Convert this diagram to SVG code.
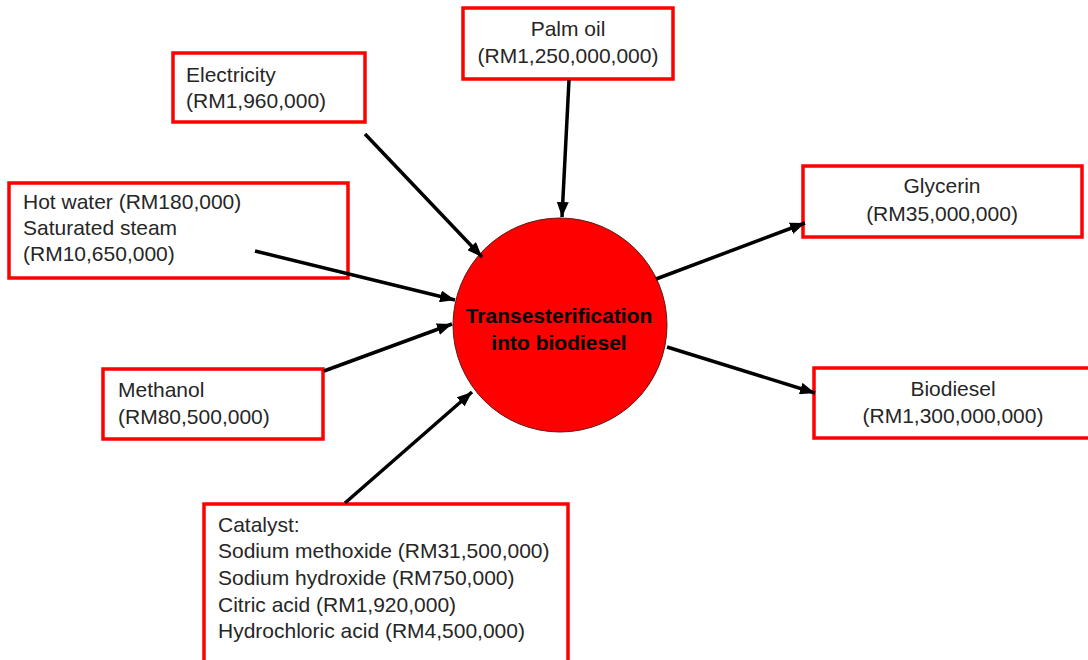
<svg xmlns="http://www.w3.org/2000/svg" width="1088" height="660" viewBox="0 0 1088 660">
<style>
.box{fill:#fff;stroke:#ff0000;stroke-width:3.5}
.t{font-family:"Liberation Sans",Arial,sans-serif;font-size:21px;fill:#262626}
.c{text-anchor:middle}
.b{font-family:"Liberation Sans",Arial,sans-serif;font-size:21px;font-weight:bold;fill:#000;text-anchor:middle}
.arr{stroke:#000;stroke-width:3.5;fill:none;marker-end:url(#ah)}
</style>
<defs>
<marker id="ah" markerUnits="userSpaceOnUse" markerWidth="16" markerHeight="12" refX="15" refY="6" orient="auto">
<path d="M0,0 L15,6 L0,12 z" fill="#000"/>
</marker>
</defs>
<rect width="1088" height="660" fill="#fff"/>
<g id="process">
<circle cx="560" cy="325" r="107" fill="#ff0000" stroke="#5a1a1a" stroke-width="1"/>
<text class="b" x="559" y="323">Transesterification</text>
<text class="b" x="559" y="350">into biodiesel</text>
</g>
<g id="palm-oil">
<rect class="box" x="463" y="8" width="210" height="71"/>
<text class="t c" x="568" y="36">Palm oil</text>
<text class="t c" x="568" y="63">(RM1,250,000,000)</text>
</g>
<g id="electricity">
<rect class="box" x="173" y="53" width="192" height="69"/>
<text class="t" x="186" y="82">Electricity</text>
<text class="t" x="186" y="108">(RM1,960,000)</text>
</g>
<g id="hot-water-steam">
<rect class="box" x="9" y="183" width="339" height="95"/>
<text class="t" x="23" y="209">Hot water (RM180,000)</text>
<text class="t" x="23" y="235">Saturated steam</text>
<text class="t" x="23" y="261">(RM10,650,000)</text>
</g>
<g id="methanol">
<rect class="box" x="103" y="369" width="220" height="70"/>
<text class="t" x="118" y="397">Methanol</text>
<text class="t" x="118" y="424">(RM80,500,000)</text>
</g>
<g id="catalyst">
<rect class="box" x="204" y="504" width="364" height="170"/>
<text class="t" x="218" y="532">Catalyst:</text>
<text class="t" x="218" y="558">Sodium methoxide (RM31,500,000)</text>
<text class="t" x="218" y="585">Sodium hydroxide (RM750,000)</text>
<text class="t" x="218" y="612">Citric acid (RM1,920,000)</text>
<text class="t" x="218" y="638">Hydrochloric acid (RM4,500,000)</text>
</g>
<g id="glycerin">
<rect class="box" x="803" y="166" width="279" height="71"/>
<text class="t c" x="942" y="193">Glycerin</text>
<text class="t c" x="942" y="221">(RM35,000,000)</text>
</g>
<g id="biodiesel">
<rect class="box" x="814" y="368" width="290" height="70"/>
<text class="t c" x="953" y="396">Biodiesel</text>
<text class="t c" x="953" y="423">(RM1,300,000,000)</text>
</g>
<g id="connectors">
<line class="arr" x1="569" y1="80" x2="562" y2="217"/>
<line class="arr" x1="365" y1="134" x2="482" y2="257"/>
<line class="arr" x1="255" y1="251" x2="455" y2="300"/>
<line class="arr" x1="324" y1="371" x2="452" y2="324"/>
<line class="arr" x1="345" y1="503" x2="472" y2="392"/>
<line class="arr" x1="656" y1="279" x2="805" y2="223"/>
<line class="arr" x1="667" y1="347" x2="815" y2="393"/>
</g>
</svg>
